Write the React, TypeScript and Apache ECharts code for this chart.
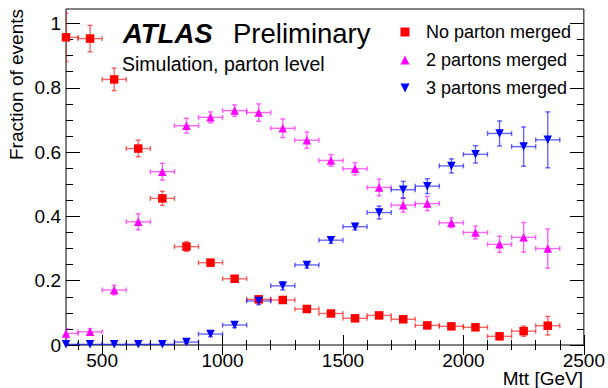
import React, { useEffect, useRef } from 'react';
import * as echarts from 'echarts';

const massBins = [350, 450, 550, 650, 750, 850, 950, 1050, 1150, 1250, 1350, 1450, 1550, 1650, 1750, 1850, 1950, 2050, 2150, 2250, 2350];
const binHalfWidth = 50;

const noParton = [0.957, 0.953, 0.826, 0.611, 0.456, 0.306, 0.256, 0.206, 0.142, 0.140, 0.112, 0.098, 0.083, 0.092, 0.080, 0.061, 0.058, 0.055, 0.027, 0.043, 0.060];
const noPartonErr = [0.075, 0.041, 0.035, 0.026, 0.022, 0.015, 0.01, 0.01, 0.01, 0.01, 0.008, 0.008, 0.008, 0.008, 0.008, 0.008, 0.008, 0.008, 0.01, 0.016, 0.029];

const twoPartons = [0.036, 0.041, 0.171, 0.383, 0.539, 0.682, 0.708, 0.729, 0.723, 0.674, 0.637, 0.574, 0.548, 0.490, 0.435, 0.440, 0.380, 0.350, 0.313, 0.335, 0.300];
const twoPartonsErr = [0.015, 0.01, 0.015, 0.025, 0.026, 0.023, 0.017, 0.018, 0.027, 0.029, 0.025, 0.018, 0.019, 0.026, 0.022, 0.022, 0.015, 0.02, 0.025, 0.046, 0.061];

const threePartons = [0.002, 0.002, 0.002, 0.002, 0.002, 0.009, 0.034, 0.062, 0.137, 0.184, 0.249, 0.326, 0.368, 0.412, 0.483, 0.494, 0.557, 0.593, 0.658, 0.617, 0.638];
const threePartonsErr = [0.002, 0.002, 0.002, 0.002, 0.002, 0.005, 0.008, 0.008, 0.012, 0.013, 0.01, 0.01, 0.01, 0.02, 0.026, 0.023, 0.022, 0.027, 0.039, 0.061, 0.087];

const xMajorTicks = [500, 1000, 1500, 2000, 2500];
const xMinorTicks = [400, 500, 600, 700, 800, 900, 1000, 1100, 1200, 1300, 1400, 1500, 1600, 1700, 1800, 1900, 2000, 2100, 2200, 2300, 2400];
const yMajorTicks = [0, 0.2, 0.4, 0.6, 0.8, 1];
const yMinorTicks = [0.05, 0.1, 0.15, 0.2, 0.25, 0.3, 0.35, 0.4, 0.45, 0.5, 0.55, 0.6, 0.65, 0.7, 0.75, 0.8, 0.85, 0.9, 0.95, 1];

const seriesNames = ['No parton merged', '2 partons merged', '3 partons merged'];
const seriesColors = ['#ff0000', '#ff00ff', '#0000ff'];
const legendIcons = ['rect', 'triangle', 'path://M0,0 L10,0 L5,10 Z'];

const FONT = '"Liberation Sans", Arial, Helvetica, sans-serif';

function errRender(color: string) {
  return (params: any, api: any) => {
    const x = api.value(0);
    const y = api.value(1);
    const e = api.value(2);
    const pl = api.coord([x - binHalfWidth, y]);
    const pr = api.coord([x + binHalfWidth, y]);
    const pt = api.coord([x, y + e]);
    const pb = api.coord([x, y - e]);
    const cap = 2.5;
    const style = { stroke: color, lineWidth: 1.4, opacity: 0.6 };
    const ln = (x1: number, y1: number, x2: number, y2: number) => ({
      type: 'line',
      shape: { x1, y1, x2, y2 },
      style,
    });
    return {
      type: 'group',
      children: [
        ln(pl[0], pl[1], pr[0], pr[1]),
        ln(pt[0], pt[1], pb[0], pb[1]),
        ln(pl[0], pl[1] - cap, pl[0], pl[1] + cap),
        ln(pr[0], pr[1] - cap, pr[0], pr[1] + cap),
        ln(pt[0] - cap, pt[1], pt[0] + cap, pt[1]),
        ln(pb[0] - cap, pb[1], pb[0] + cap, pb[1]),
      ],
    };
  };
}

export default function App() {
  const ref = useRef<HTMLDivElement>(null);

  useEffect(() => {
    if (!ref.current) return;
    const chart = echarts.init(ref.current, undefined, { renderer: 'svg' });

    const groups = [
      { vals: noParton, errs: noPartonErr, symbol: 'rect', rotate: 0 },
      { vals: twoPartons, errs: twoPartonsErr, symbol: 'triangle', rotate: 0 },
      { vals: threePartons, errs: threePartonsErr, symbol: 'triangle', rotate: 180 },
    ];

    const series: any[] = [];
    groups.forEach((g, gi) => {
      series.push({
        type: 'custom',
        name: 'err-' + gi,
        xAxisIndex: 0,
        yAxisIndex: 0,
        clip: true,
        silent: true,
        z: 2,
        renderItem: errRender(seriesColors[gi]),
        encode: { x: 0, y: 1 },
        data: massBins.map((x, i) => [x, g.vals[i], g.errs[i]]),
      });
    });
    groups.forEach((g, gi) => {
      series.push({
        type: 'scatter',
        name: seriesNames[gi],
        xAxisIndex: 0,
        yAxisIndex: 0,
        symbol: g.symbol,
        symbolRotate: g.rotate,
        symbolSize: 8.5,
        symbolKeepAspect: true,
        z: 3,
        itemStyle: { color: seriesColors[gi], opacity: 1 },
        data: massBins.map((x, i) => [x, g.vals[i]]),
      });
    });

    const xBase = {
      type: 'value',
      min: 350,
      max: 2500,
      gridIndex: 0,
      splitLine: { show: false },
      axisLine: { show: false },
    };
    const yBase = {
      type: 'value',
      min: 0,
      max: 1.045,
      gridIndex: 0,
      splitLine: { show: false },
      axisLine: { show: false },
    };
    const tickStyle = { color: '#000', width: 1 };

    chart.setOption({
      animation: false,
      backgroundColor: '#ffffff',
      grid: {
        left: 66,
        right: 22,
        top: 9,
        bottom: 43,
        show: true,
        borderColor: '#000',
        borderWidth: 1,
        backgroundColor: 'transparent',
      },
      xAxis: [
        {
          ...xBase,
          position: 'bottom',
          axisTick: { show: true, inside: true, length: 10, lineStyle: tickStyle, customValues: xMajorTicks },
          axisLabel: {
            show: true,
            customValues: xMajorTicks,
            formatter: (v: number) => String(v),
            margin: 6,
            color: '#000',
            fontSize: 19,
            fontFamily: FONT,
          },
        },
        {
          ...xBase,
          position: 'bottom',
          axisTick: { show: true, inside: true, length: 5, lineStyle: tickStyle, customValues: xMinorTicks },
          axisLabel: { show: false },
        },
        {
          ...xBase,
          position: 'top',
          axisTick: { show: true, inside: true, length: 10, lineStyle: tickStyle, customValues: xMajorTicks },
          axisLabel: { show: false },
        },
        {
          ...xBase,
          position: 'top',
          axisTick: { show: true, inside: true, length: 5, lineStyle: tickStyle, customValues: xMinorTicks },
          axisLabel: { show: false },
        },
      ],
      yAxis: [
        {
          ...yBase,
          position: 'left',
          axisTick: { show: true, inside: true, length: 14, lineStyle: tickStyle, customValues: yMajorTicks },
          axisLabel: {
            show: true,
            customValues: yMajorTicks,
            formatter: (v: number) => String(v),
            margin: 5,
            color: '#000',
            fontSize: 19,
            fontFamily: FONT,
          },
        },
        {
          ...yBase,
          position: 'left',
          axisTick: { show: true, inside: true, length: 7, lineStyle: tickStyle, customValues: yMinorTicks },
          axisLabel: { show: false },
        },
        {
          ...yBase,
          position: 'right',
          axisTick: { show: true, inside: true, length: 14, lineStyle: tickStyle, customValues: yMajorTicks },
          axisLabel: { show: false },
        },
        {
          ...yBase,
          position: 'right',
          axisTick: { show: true, inside: true, length: 7, lineStyle: tickStyle, customValues: yMinorTicks },
          axisLabel: { show: false },
        },
      ],
      legend: {
        orient: 'vertical',
        left: 395.5,
        top: 18,
        itemWidth: 9,
        itemHeight: 9,
        itemGap: 10,
        selectedMode: false,
        textStyle: { fontSize: 18, color: '#000', fontFamily: FONT, padding: [0, 0, 0, 11.5] },
        data: seriesNames.map((name, i) => ({ name, icon: legendIcons[i] })),
      },
      graphic: [
        {
          type: 'text',
          x: 123,
          y: 33,
          style: {
            text: 'ATLAS',
            fontSize: 27.5,
            fontWeight: 'bold',
            fontStyle: 'italic',
            fontFamily: FONT,
            fill: '#000',
            align: 'left',
            verticalAlign: 'middle',
            textAlign: 'left',
            textVerticalAlign: 'middle',
          },
        },
        {
          type: 'text',
          x: 233,
          y: 33,
          style: {
            text: 'Preliminary',
            fontSize: 27.5,
            fontFamily: FONT,
            fill: '#000',
            align: 'left',
            verticalAlign: 'middle',
            textAlign: 'left',
            textVerticalAlign: 'middle',
          },
        },
        {
          type: 'text',
          x: 122,
          y: 64,
          style: {
            text: 'Simulation, parton level',
            fontSize: 19.5,
            fontFamily: FONT,
            fill: '#000',
            align: 'left',
            verticalAlign: 'middle',
            textAlign: 'left',
            textVerticalAlign: 'middle',
          },
        },
        {
          type: 'text',
          x: 16,
          y: 9,
          rotation: Math.PI / 2,
          style: {
            text: 'Fraction of events',
            fontSize: 19,
            fontFamily: FONT,
            fill: '#000',
            align: 'right',
            verticalAlign: 'middle',
            textAlign: 'right',
            textVerticalAlign: 'middle',
          },
        },
        {
          type: 'text',
          x: 583,
          y: 378,
          style: {
            text: 'Mtt [GeV]',
            fontSize: 19,
            fontFamily: FONT,
            fill: '#000',
            align: 'right',
            verticalAlign: 'middle',
            textAlign: 'right',
            textVerticalAlign: 'middle',
          },
        },
      ],
      series,
    });

    return () => {
      chart.dispose();
    };
  }, []);

  return (
    <div
      ref={ref}
      style={{ position: 'fixed', left: 0, top: 0, width: 608, height: 388, background: '#fff' }}
    />
  );
}
